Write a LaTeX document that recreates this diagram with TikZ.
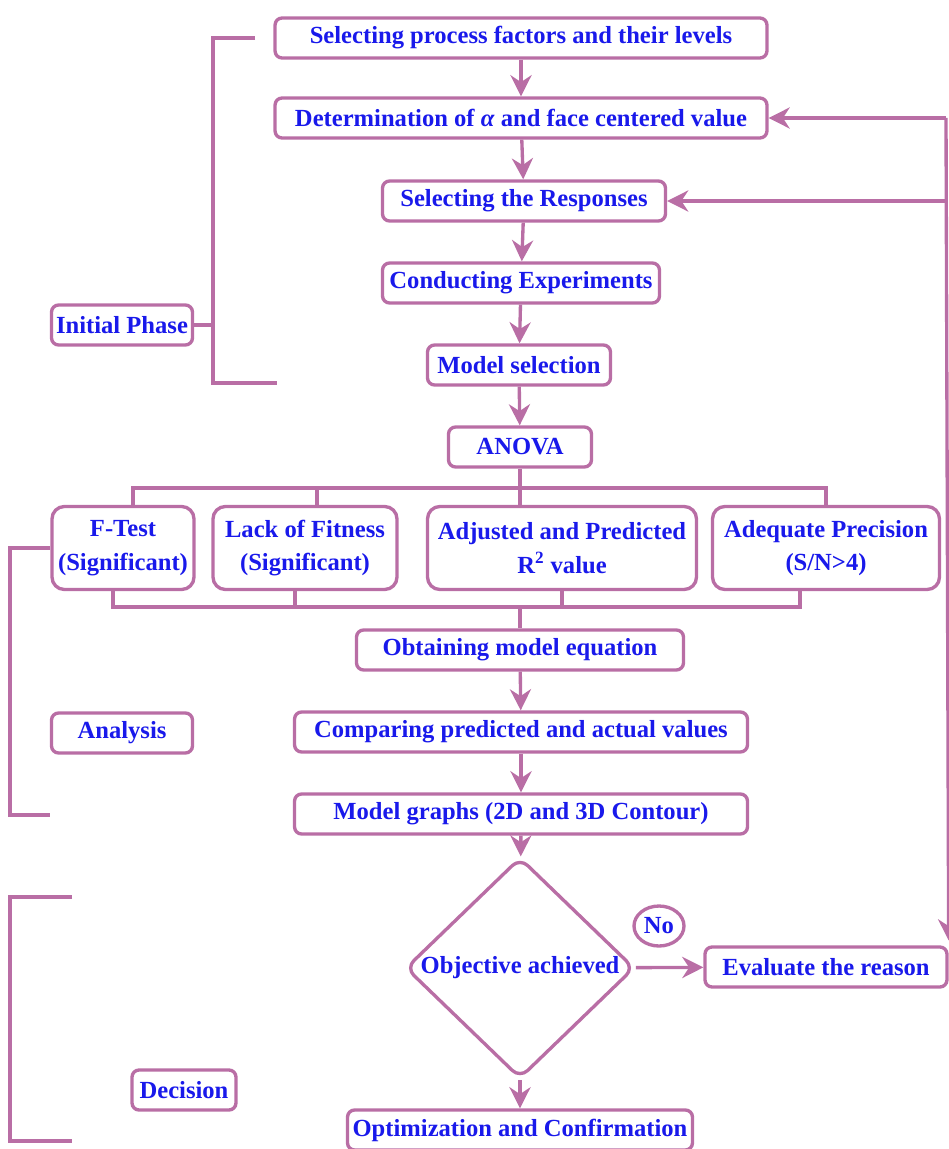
\documentclass[tikz,border=0pt]{standalone}
\usepackage{fontspec}
\setmainfont{Liberation Serif}
\newfontfamily\flowfont{Liberation Serif}
\usetikzlibrary{shapes.geometric, arrows.meta, positioning, calc}
\definecolor{flowline}{RGB}{185,110,165}
\definecolor{flowtext}{RGB}{25,25,235}

\tikzset{
  stepbox/.style={draw=flowline, line width=1.9pt, rounded corners=4pt, fill=white,
                  minimum height=0.8cm, inner sep=2pt, align=center, text=flowtext,
                  font=\flowfont\fontsize{14}{19}\selectfont\bfseries},
  testbox/.style={stepbox, minimum height=1.66cm, rounded corners=7pt},
  phasebox/.style={stepbox},
  decisionbox/.style={stepbox, shape=diamond, inner sep=0pt, rounded corners=6pt},
  answerbox/.style={stepbox, shape=ellipse, inner sep=0pt, minimum width=1cm, minimum height=0.8cm},
  flow/.style={draw=flowline, line width=1.9pt, -{Stealth[length=12pt,width=12pt]}},
  link/.style={draw=flowline, line width=1.9pt},
  bracket/.style={draw=flowline, line width=1.9pt}
}

\begin{document}
\begin{tikzpicture}[x=0.02cm, y=-0.02cm]
  \useasboundingbox (0,0) rectangle (949,1149);

  % main column
  \node[stepbox, minimum width=9.84cm] (factors) at (521,38) {Selecting process factors and their levels};
  \node[stepbox, minimum width=9.84cm] (alpha) at (521,118) {Determination of \textit{α} and face centered value};
  \node[stepbox, minimum width=5.66cm] (resp) at (524,201) {Selecting the Responses};
  \node[stepbox, minimum width=5.54cm] (expt) at (521,283) {Conducting Experiments};
  \node[stepbox, minimum width=3.66cm] (model) at (519,365) {Model selection};
  \node[stepbox, minimum width=2.86cm] (anova) at (520,447) {ANOVA};

  % tests
  \node[testbox, minimum width=2.84cm] (ftest) at (123,548) {F-Test\\(Significant)};
  \node[testbox, minimum width=3.68cm] (lack) at (305,548) {Lack of Fitness\\(Significant)};
  \node[testbox, minimum width=5.38cm] (adj) at (562,548) {Adjusted and Predicted\\R\textsuperscript{2} value};
  \node[testbox, minimum width=4.54cm] (adeq) at (826,548) {Adequate Precision\\(S/N>4)};

  \node[stepbox, minimum width=6.54cm] (equation) at (520,650) {Obtaining model equation};
  \node[stepbox, minimum width=9.06cm] (compare) at (521,732) {Comparing predicted and actual values};
  \node[stepbox, minimum width=9.06cm] (graphs) at (521,814) {Model graphs (2D and 3D Contour)};

  % decision
  \node[decisionbox, minimum width=4.58cm, minimum height=3.8cm] (objective) at (520,968) {Objective achieved};
  \node[stepbox, minimum width=4.84cm] (reason) at (826,967) {Evaluate the reason};
  \node[answerbox] (no) at (659,926) {No};
  \node[stepbox, minimum width=6.9cm] (optim) at (520,1130) {Optimization and Confirmation};

  % phase labels
  \node[phasebox, minimum width=2.82cm] (initial) at (122,325) {Initial Phase};
  \node[phasebox, minimum width=2.82cm] (analysis) at (122,733) {Analysis};
  \node[phasebox, minimum width=2.08cm] (decision) at (184,1090) {Decision};

  % arrows
  \draw[flow] (factors) -- (alpha);
  \draw[flow] (alpha) -- (resp);
  \draw[flow] (resp) -- (expt);
  \draw[flow] (expt) -- (model);
  \draw[flow] (model) -- (anova);

  \coordinate (split) at (520,488);
  \coordinate (merge) at (520,607);
  \draw[link] (anova) -- (split);
  \draw[link] ([xshift=0.2cm]ftest.north) |- (split) -| (adeq.north);
  \draw[link] ([xshift=0.24cm]lack.north) -- ([xshift=0.24cm]lack.north |- split);
  \draw[link] (split) -- (split |- adj.north);
  \draw[link] ([xshift=-0.2cm]ftest.south) |- (merge) -| ([xshift=-0.52cm]adeq.south);
  \draw[link] ([xshift=-0.2cm]lack.south) -- ([xshift=-0.2cm]lack.south |- merge);
  \draw[link] (adj.south) -- (adj.south |- merge);
  \draw[link] (merge) -- (equation);

  \draw[flow] (equation) -- (compare);
  \draw[flow] (compare) -- (graphs);
  \draw[flow] (graphs) -- (objective);
  \draw[flow] (objective) -- (optim);
  \draw[flow] (objective) -- (reason);

  % feedback
  \coordinate (back) at (946,118);
  \draw[flow] (back) -- (alpha);
  \draw[flow] (back |- resp.east) -- (resp);
  \draw[flow] (back) -- ([yshift=0.1cm]reason.north east);

  % brackets
  \draw[bracket] (255,38) -| (213,383) -- (277,383);
  \draw[bracket] (initial) -- (213,325);
  \draw[bracket] (50,548) -| (10,815) -- (50,815);
  \draw[bracket] (72,897) -| (10,1141) -- (72,1141);
\end{tikzpicture}
\end{document}
